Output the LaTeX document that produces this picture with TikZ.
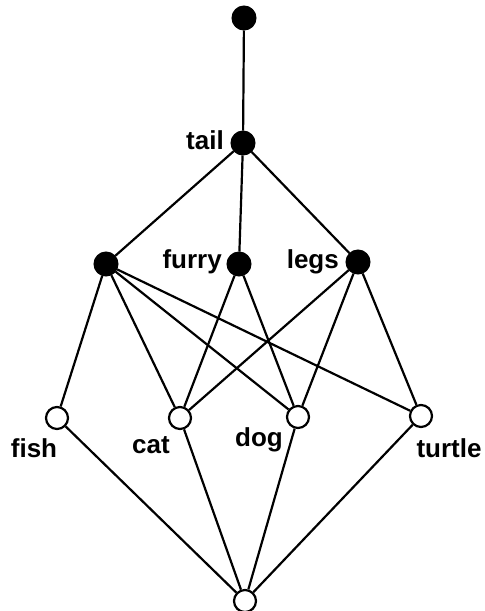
\documentclass[tikz,border=0pt]{standalone}
\usepackage{fontspec}
\setmainfont{Liberation Sans}
\begin{document}
\begin{tikzpicture}[x=1pt,y=-1pt,
  full/.style={circle,fill=black,draw=black,line width=1pt,minimum size=24pt,inner sep=0pt},
  empty/.style={circle,fill=white,draw=black,line width=2.2pt,minimum size=22pt,inner sep=0pt},
  tag/.style={font=\bfseries\fontsize{26}{26}\selectfont,inner sep=0pt},
  edge/.style={line width=2.2pt}]
\useasboundingbox (0,0) rectangle (485,611);
% concept nodes
\node[full] (top) at (244,18) {};
\node[full] (tail) at (243,143) {};
\node[full] (n) at (106,264) {};
\node[full] (furry) at (239,264) {};
\node[full] (legs) at (358,262) {};
% object nodes
\node[empty] (fish) at (57,418) {};
\node[empty] (cat) at (180,418) {};
\node[empty] (dog) at (298,417) {};
\node[empty] (turtle) at (421,416) {};
\node[empty] (bot) at (245,601) {};
% edges
\draw[edge] (top) -- (tail);
\draw[edge] (tail) -- (n);
\draw[edge] (tail) -- (furry);
\draw[edge] (tail) -- (legs);
\draw[edge] (n) -- (fish);
\draw[edge] (n) -- (cat);
\draw[edge] (n) -- (dog);
\draw[edge] (n) -- (turtle);
\draw[edge] (furry) -- (cat);
\draw[edge] (furry) -- (dog);
\draw[edge] (legs) -- (cat);
\draw[edge] (legs) -- (dog);
\draw[edge] (legs) -- (turtle);
\draw[edge] (fish) -- (bot);
\draw[edge] (cat) -- (bot);
\draw[edge] (dog) -- (bot);
\draw[edge] (turtle) -- (bot);
% labels
\node[tag,anchor=base east] (ltail) at (224,149) {tail};
\node[tag,anchor=base east] (lfurry) at (222,268) {furry};
\node[tag,anchor=base east] (llegs) at (339,268) {legs};
\node[tag,anchor=base] (lfish) at (34,457) {fish};
\node[tag,anchor=base] (lcat) at (151,453) {cat};
\node[tag,anchor=base] (ldog) at (259,446) {dog};
\node[tag,anchor=base] (lturtle) at (449,457) {turtle};
\end{tikzpicture}
\end{document}
